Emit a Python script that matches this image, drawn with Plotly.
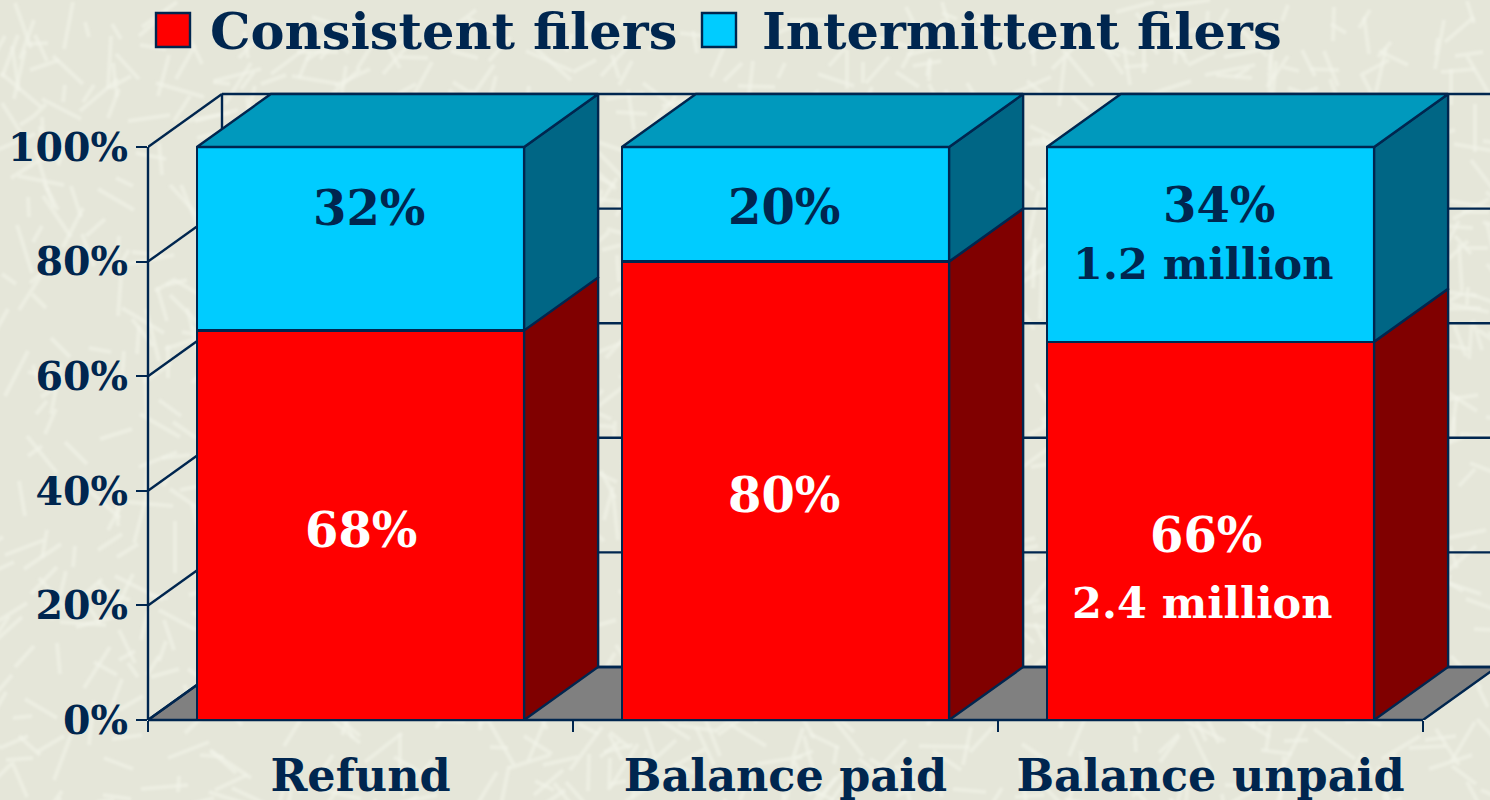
import base64
import math
import plotly.graph_objects as go

categories = ["Refund", "Balance paid", "Balance unpaid"]
consistent = [68, 80, 66]
intermittent = [32, 20, 34]
tick_values = [0, 20, 40, 60, 80, 100]
consistent_notes = ["68%", "80%", "66%"]
intermittent_notes = ["32%", "20%", "34%"]

NAVY = "#00264F"
FONT = "DejaVu Serif"
LINE_W = 2.4
W, H = 1490, 800
L, T, B = 148, 90, 80
PX_X = 425.0
PX_Y = 5.73
DX = 74 / PX_X
DY = 53 / PX_Y
BAR = 0.77
XMAX = -0.5 + (W - L) / PX_X
YMAX = (H - B - T) / PX_Y


def frac_hash(i, k):
    v = math.sin(i * k) * 43758.5453
    return v - math.floor(v)


def texture():
    parts = []
    for i in range(1, 1500):
        x = frac_hash(i, 12.9898) * W
        y = frac_hash(i, 78.233) * H
        ang = frac_hash(i, 39.425) * math.pi
        ln = 16 + frac_hash(i, 93.989) * 38
        x2, y2 = x + ln * math.cos(ang), y + ln * math.sin(ang)
        parts.append(f'<line x1="{x:.0f}" y1="{y:.0f}" x2="{x2:.0f}" y2="{y2:.0f}"/>')
    svg = (
        f'<svg xmlns="http://www.w3.org/2000/svg" width="{W}" height="{H}">'
        '<defs><filter id="b"><feGaussianBlur stdDeviation="1.3"/></filter></defs>'
        f'<rect width="{W}" height="{H}" fill="#E5E6D9"/>'
        '<g stroke="#F3F4E9" stroke-width="4" stroke-opacity="0.55" filter="url(#b)">'
        + "".join(parts) + "</g></svg>"
    )
    return "data:image/svg+xml;base64," + base64.b64encode(svg.encode()).decode()


def line_shape(x0, y0, x1, y1, xref="x", yref="y"):
    return dict(type="line", xref=xref, yref=yref, x0=x0, y0=y0, x1=x1, y1=y1,
                line=dict(color=NAVY, width=LINE_W), layer="below")


shapes = []
# floor
shapes.append(dict(type="path", xref="x", yref="y", layer="below",
                   path=f"M -0.5 0 L {2.5} 0 L {2.5 + DX} {DY} L {-0.5 + DX} {DY} Z",
                   fillcolor="#808080", line=dict(color=NAVY, width=LINE_W)))
for v in tick_values:
    shapes.append(line_shape(-0.5, v, -0.5 + DX, v + DY))
    shapes.append(line_shape(-0.5 + DX, v + DY, XMAX + 0.1, v + DY))
shapes.append(line_shape(-0.5 + DX, DY, -0.5 + DX, 100 + DY))
# front axis lines, referenced to the plot edge so they are not clipped
shapes.append(line_shape(0, 0, 0, 100, xref="paper"))
shapes.append(line_shape(-0.5, 0, 2.5, 0, yref="paper"))

fig = go.Figure()
xs = list(range(len(categories)))
fig.add_bar(x=xs, y=consistent, width=BAR, name="Consistent filers", marker=dict(color="#FF0000", line=dict(color=NAVY, width=LINE_W)))
fig.add_bar(x=xs, y=intermittent, width=BAR, name="Intermittent filers", marker=dict(color="#00CCFF", line=dict(color=NAVY, width=LINE_W)))


def poly(px, py, color):
    fig.add_scatter(x=px, y=py, mode="lines", fill="toself", fillcolor=color,
                    line=dict(color=NAVY, width=LINE_W), hoverinfo="skip", showlegend=False)


for i, (c, m) in enumerate(zip(consistent, intermittent)):
    right = i + BAR / 2
    left = i - BAR / 2
    total = c + m
    poly([right, right + DX, right + DX, right, right], [0, DY, c + DY, c, 0], "#800000")
    poly([right, right + DX, right + DX, right, right], [c, c + DY, total + DY, total, c], "#006685")
    poly([left, right, right + DX, left + DX, left], [total, total, total + DY, total + DY, total], "#0099BD")

ann = []


def label(x, y, text, color, size):
    ann.append(dict(x=x, y=y, xref="x", yref="y", text=f"<b>{text}</b>", showarrow=False,
                    font=dict(family=FONT, size=size, color=color)))


low_y = [33.2, 39.3, 32.2]
high_y = [89.4, 89.6, 89.8]
low_x = [0.0, 0.997, 1.99]
high_x = [0.019, 0.997, 2.02]
for i in xs:
    label(low_x[i], low_y[i], consistent_notes[i], "#FFFFFF", 48)
    label(high_x[i], high_y[i], intermittent_notes[i], NAVY, 48)
label(1.983, 79.5, "1.2 million", NAVY, 43)
label(1.98, 20.5, "2.4 million", "#FFFFFF", 43)

# legend row
for x0, color in [(156, "#FF0000"), (702, "#00CCFF")]:
    shapes.append(dict(type="rect", xref="paper", yref="paper",
                       x0=(x0 - L) / (W - L), x1=(x0 + 34 - L) / (W - L),
                       y0=(H - B - 47) / (H - B - T), y1=(H - B - 13) / (H - B - T),
                       fillcolor=color, line=dict(color=NAVY, width=LINE_W), layer="above"))
for x0, name in [(208, "Consistent filers"), (760, "Intermittent filers")]:
    ann.append(dict(x=(x0 - L) / (W - L), y=(H - B - 31) / (H - B - T), xref="paper", yref="paper",
                    xanchor="left", yanchor="middle", text=f"<b>{name}</b>", showarrow=False,
                    font=dict(family=FONT, size=51, color=NAVY)))

fig.update_layout(
    width=W, height=H, barmode="stack", bargap=0.23, showlegend=False,
    margin=dict(l=L, r=0, t=T, b=B, pad=0),
    paper_bgcolor="#E5E6D9", plot_bgcolor="rgba(0,0,0,0)",
    shapes=shapes, annotations=ann,
    images=[dict(source=texture(), xref="paper", yref="paper", x=-L / (W - L), y=1 + T / (H - B - T),
                 sizex=W / (W - L), sizey=H / (H - B - T), sizing="stretch", layer="below",
                 xanchor="left", yanchor="top")],
    xaxis=dict(range=[-0.5, XMAX], tickmode="array", tickvals=xs, ticktext=[f"<b>{c}</b>" for c in categories],
               ticks="", showgrid=False, zeroline=False, showline=False, ticklabelstandoff=25,
               tickfont=dict(family=FONT, size=44.5, color=NAVY),
               minor=dict(tickmode="array", tickvals=[-0.5, 0.5, 1.5, 2.5], ticks="outside", ticklen=11,
                          tickwidth=LINE_W, tickcolor=NAVY, showgrid=False)),
    yaxis=dict(range=[0, YMAX], tickmode="array", tickvals=tick_values,
               ticktext=[f"<b>{v}%</b>" for v in tick_values], ticks="outside", ticklen=11, tickwidth=LINE_W,
               tickcolor=NAVY, showgrid=False, zeroline=False, showline=False, ticklabelstandoff=0,
               tickfont=dict(family=FONT, size=39.5, color=NAVY)),
)
fig.write_html("out.html", config={"displayModeBar": False}, post_script="document.body.style.margin='0';")
